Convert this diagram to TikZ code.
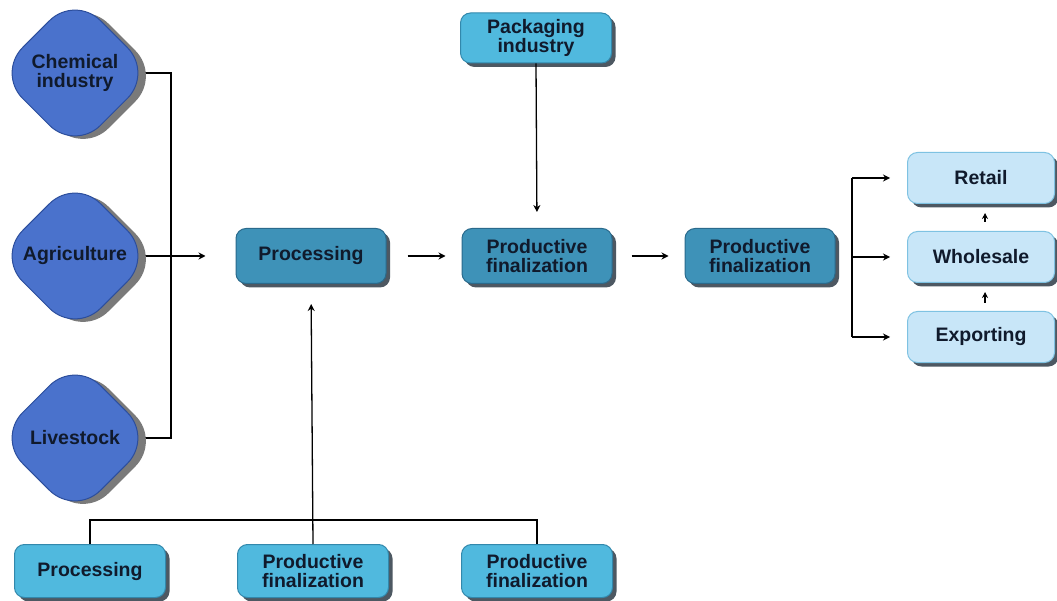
\documentclass[tikz,border=0pt]{standalone}
\usepackage{fontspec}
\setmainfont{Liberation Sans}
\usetikzlibrary{shapes.geometric,arrows.meta,backgrounds,calc}
\definecolor{dfill}{HTML}{4A72CC}
\definecolor{ddraw}{HTML}{2C4E9C}
\definecolor{dshadow}{HTML}{7A7A7A}
\definecolor{mfill}{HTML}{3E92B8}
\definecolor{mdraw}{HTML}{2A6A8C}
\definecolor{cfill}{HTML}{50B9DE}
\definecolor{cdraw}{HTML}{3288AC}
\definecolor{pfill}{HTML}{C8E6F8}
\definecolor{pdraw}{HTML}{7EC2E2}
\definecolor{bshadow}{HTML}{4D5862}
\definecolor{txt}{HTML}{101A2C}
\tikzset{
  lbl/.style={font=\fontsize{19.5}{19}\selectfont\bfseries, text=txt, align=center, inner sep=0pt},
  dia/.style={lbl, shape=diamond, minimum width=156pt, minimum height=156pt, rounded corners=36pt,
    fill=dfill, draw=ddraw, line width=1pt,
    preaction={fill=dshadow, draw=none, transform canvas={shift={(8pt,-3pt)}}}},
  box/.style={lbl, rectangle, rounded corners=10pt, line width=1pt,
    preaction={fill=bshadow, draw=none, transform canvas={shift={(4pt,-4pt)}}}},
  midbox/.style={box, fill=mfill, draw=mdraw, minimum width=150pt, minimum height=55pt},
  cyanbox/.style={box, fill=cfill, draw=cdraw, minimum width=151pt},
  palebox/.style={box, fill=pfill, draw=pdraw, minimum width=147pt, minimum height=51pt},
  conn/.style={line width=1.3pt, draw=black},
  arr/.style={conn, -{Stealth[length=7pt,width=7pt]}},
  smallarr/.style={conn, line width=1.3pt, -{Stealth[length=6pt,width=6pt]}}
}
\begin{document}
\begin{tikzpicture}[x=1pt,y=-1pt]
\useasboundingbox (0,0) rectangle (1057,601);
% diamonds
\node[dia] (chem) at (75,73) {Chemical\\industry};
\node[dia] (agri) at (75,256) {Agriculture};
\node[dia] (live) at (75,438) {Livestock};
% middle row
\node[midbox] (proc) at (311,256) {Processing};
\node[midbox] (pf1) at (537,256) {Productive\\finalization};
\node[midbox] (pf2) at (760,256) {Productive\\finalization};
% packaging
\node[cyanbox, minimum height=50pt] (pack) at (536,38) {Packaging\\industry};
% right
\node[palebox] (retail) at (981,178) {Retail};
\node[palebox] (whole) at (981,257) {Wholesale};
\node[palebox] (export) at (981,337) {Exporting};
% bottom
\node[cyanbox, minimum height=53pt] (b1) at (90,571) {Processing};
\node[cyanbox, minimum height=53pt] (b2) at (313,571) {Productive\\finalization};
\node[cyanbox, minimum height=53pt] (b3) at (537,571) {Productive\\finalization};
\coordinate (bus) at (171,0);
\coordinate (bus2) at (0,520);
\coordinate (fork) at (852,257);
\begin{scope}[on background layer]
\fill[white] (0,0) rectangle (1057,601);
\draw[conn] (chem.center) -| (bus |- live.center) -- (live.center);
\draw[arr, shorten >=30pt] (agri.center) -- (proc.west);
\end{scope}
\draw[arr, shorten <=21pt, shorten >=16pt] (proc.east) -- (pf1.west);
\draw[arr, shorten <=19pt, shorten >=16pt] (pf1.east) -- (pf2.west);
\draw[arr, shorten >=16pt] (pack.south) -- (pf1.north);
\draw[arr, shorten >=20pt] (b2.north) -- (proc.south);
\draw[conn] (b1.north) -- (b1.north |- bus2) -- (b3.north |- bus2) -- (b3.north);
\draw[conn] (fork |- retail.west) -- (fork |- export.west);
\draw[arr, shorten >=17pt] (fork |- retail.west) -- (retail.west);
\draw[arr, shorten >=17pt] (fork) -- (whole.west);
\draw[arr, shorten >=17pt] (fork |- export.west) -- (export.west);
\draw[smallarr, shorten <=8pt, shorten >=9pt] ([xshift=4pt]export.north) -- ([xshift=4pt]whole.south);
\draw[smallarr, shorten <=9pt, shorten >=9pt] ([xshift=4pt]whole.north) -- ([xshift=4pt]retail.south);
\end{tikzpicture}
\end{document}
